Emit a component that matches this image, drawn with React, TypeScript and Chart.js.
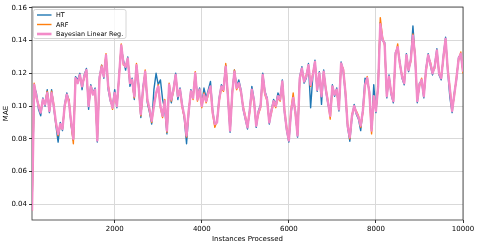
import React, { useEffect, useRef } from 'react';
import { Chart, registerables } from 'chart.js';

Chart.register(...registerables);

// Instances processed: first sample and spacing of the samples below
const START = 100;
const STEP = 50;

const SERIES_NAMES = ['HT', 'ARF', 'Bayesian Linear Reg.'];
const COLORS = ['#1f77b4', '#ff7f0e', '#f38bc8'];

const HT = [
  0.036, 0.112, 0.108, 0.098, 0.094, 0.105, 0.100, 0.110, 0.096, 0.110,
  0.099, 0.088, 0.078, 0.090, 0.085, 0.101, 0.108, 0.103, 0.088, 0.079,
  0.118, 0.116, 0.120, 0.110, 0.119, 0.123, 0.098, 0.113, 0.108, 0.111,
  0.078, 0.118, 0.125, 0.117, 0.131, 0.110, 0.103, 0.100, 0.110, 0.099,
  0.119, 0.136, 0.128, 0.122, 0.130, 0.112, 0.117, 0.104, 0.124, 0.113,
  0.093, 0.112, 0.120, 0.102, 0.096, 0.089, 0.110, 0.120, 0.113, 0.116,
  0.104, 0.098, 0.083, 0.112, 0.102, 0.111, 0.120, 0.104, 0.111, 0.101,
  0.092, 0.077, 0.096, 0.110, 0.106, 0.119, 0.106, 0.111, 0.101, 0.111,
  0.105, 0.110, 0.115, 0.097, 0.088, 0.091, 0.105, 0.113, 0.111, 0.125,
  0.105, 0.084, 0.109, 0.122, 0.112, 0.116, 0.110, 0.098, 0.092, 0.086,
  0.098, 0.112, 0.104, 0.087, 0.097, 0.101, 0.120, 0.109, 0.105, 0.089,
  0.098, 0.104, 0.101, 0.108, 0.105, 0.116, 0.096, 0.085, 0.078, 0.096,
  0.104, 0.097, 0.081, 0.118, 0.124, 0.114, 0.117, 0.126, 0.099, 0.118,
  0.128, 0.109, 0.121, 0.101, 0.122, 0.109, 0.101, 0.095, 0.113, 0.106,
  0.111, 0.097, 0.127, 0.121, 0.107, 0.087, 0.0785, 0.093, 0.101, 0.095,
  0.092, 0.085, 0.098, 0.117, 0.116, 0.109, 0.086, 0.113, 0.096, 0.113,
  0.151, 0.140, 0.139, 0.105, 0.119, 0.107, 0.102, 0.133, 0.135, 0.127,
  0.117, 0.113, 0.132, 0.121, 0.129, 0.149, 0.129, 0.102, 0.114, 0.115,
  0.105, 0.123, 0.132, 0.125, 0.119, 0.125, 0.135, 0.119, 0.116, 0.131,
  0.142, 0.121, 0.105, 0.096, 0.108, 0.116, 0.130, 0.131, 0.122,
];

const ARF = [
  0.036, 0.114, 0.105, 0.101, 0.097, 0.103, 0.102, 0.109, 0.098, 0.109,
  0.101, 0.089, 0.082, 0.088, 0.087, 0.099, 0.106, 0.104, 0.089, 0.077,
  0.116, 0.115, 0.118, 0.113, 0.117, 0.121, 0.101, 0.111, 0.108, 0.109,
  0.080, 0.116, 0.125, 0.119, 0.132, 0.113, 0.105, 0.098, 0.107, 0.101,
  0.117, 0.138, 0.125, 0.125, 0.128, 0.115, 0.115, 0.105, 0.126, 0.111,
  0.094, 0.109, 0.122, 0.103, 0.097, 0.090, 0.101, 0.107, 0.113, 0.099,
  0.093, 0.104, 0.084, 0.114, 0.103, 0.109, 0.118, 0.107, 0.109, 0.099,
  0.093, 0.081, 0.098, 0.108, 0.104, 0.121, 0.103, 0.109, 0.099, 0.108,
  0.102, 0.107, 0.111, 0.095, 0.087, 0.091, 0.103, 0.111, 0.109, 0.126,
  0.107, 0.086, 0.107, 0.122, 0.110, 0.113, 0.108, 0.100, 0.094, 0.088,
  0.096, 0.109, 0.102, 0.089, 0.095, 0.099, 0.118, 0.107, 0.103, 0.091,
  0.096, 0.102, 0.099, 0.105, 0.103, 0.114, 0.098, 0.087, 0.080, 0.098,
  0.108, 0.095, 0.083, 0.116, 0.122, 0.116, 0.119, 0.124, 0.112, 0.120,
  0.126, 0.111, 0.119, 0.107, 0.120, 0.111, 0.103, 0.092, 0.111, 0.108,
  0.109, 0.099, 0.125, 0.123, 0.109, 0.089, 0.080, 0.095, 0.099, 0.097,
  0.094, 0.087, 0.096, 0.112, 0.118, 0.107, 0.083, 0.105, 0.098, 0.111,
  0.154, 0.142, 0.137, 0.107, 0.117, 0.109, 0.104, 0.131, 0.138, 0.125,
  0.119, 0.115, 0.130, 0.123, 0.127, 0.144, 0.131, 0.104, 0.112, 0.117,
  0.107, 0.121, 0.130, 0.127, 0.121, 0.123, 0.133, 0.121, 0.118, 0.129,
  0.140, 0.123, 0.111, 0.098, 0.106, 0.118, 0.128, 0.133, 0.120,
];

const BLR = [
  0.036, 0.113, 0.106, 0.100, 0.096, 0.104, 0.101, 0.108, 0.097, 0.108,
  0.100, 0.090, 0.083, 0.089, 0.086, 0.100, 0.107, 0.102, 0.090, 0.080,
  0.117, 0.114, 0.119, 0.112, 0.118, 0.122, 0.100, 0.112, 0.107, 0.110,
  0.079, 0.117, 0.124, 0.118, 0.131, 0.112, 0.104, 0.099, 0.108, 0.100,
  0.118, 0.137, 0.126, 0.124, 0.129, 0.114, 0.116, 0.106, 0.125, 0.112,
  0.095, 0.110, 0.121, 0.104, 0.098, 0.091, 0.100, 0.108, 0.112, 0.100,
  0.094, 0.103, 0.085, 0.113, 0.104, 0.110, 0.119, 0.106, 0.110, 0.100,
  0.094, 0.082, 0.097, 0.109, 0.105, 0.120, 0.104, 0.110, 0.100, 0.107,
  0.103, 0.108, 0.112, 0.096, 0.089, 0.090, 0.104, 0.112, 0.110, 0.124,
  0.106, 0.085, 0.108, 0.121, 0.111, 0.114, 0.109, 0.099, 0.093, 0.087,
  0.097, 0.110, 0.103, 0.088, 0.096, 0.100, 0.119, 0.108, 0.104, 0.090,
  0.097, 0.103, 0.100, 0.106, 0.104, 0.115, 0.097, 0.086, 0.079, 0.097,
  0.105, 0.096, 0.082, 0.117, 0.123, 0.115, 0.118, 0.125, 0.113, 0.119,
  0.127, 0.110, 0.120, 0.106, 0.121, 0.110, 0.102, 0.094, 0.112, 0.107,
  0.110, 0.098, 0.126, 0.122, 0.108, 0.088, 0.081, 0.094, 0.100, 0.096,
  0.093, 0.088, 0.097, 0.113, 0.117, 0.108, 0.085, 0.106, 0.097, 0.112,
  0.150, 0.141, 0.138, 0.106, 0.118, 0.108, 0.103, 0.132, 0.136, 0.126,
  0.118, 0.114, 0.131, 0.122, 0.128, 0.143, 0.130, 0.103, 0.113, 0.116,
  0.106, 0.122, 0.131, 0.126, 0.120, 0.124, 0.134, 0.120, 0.117, 0.130,
  0.141, 0.122, 0.110, 0.097, 0.107, 0.117, 0.129, 0.132, 0.121,
];

const X_TICKS = [2000, 4000, 6000, 8000, 10000];
const Y_TICKS = [0.04, 0.06, 0.08, 0.10, 0.12, 0.14, 0.16];
const X_MIN = 100;
const X_MAX = 10000;
const Y_MIN = 0.0304;
const Y_MAX = 0.1605;

const FONT = "'DejaVu Sans', sans-serif";

const toPoints = (arr: number[]) => arr.map((v, i) => ({ x: START + i * STEP, y: v }));

const framePlugin = {
  id: 'frame',
  beforeDatasetsDraw(chart: any) {
    const { ctx, chartArea: a } = chart;
    ctx.save();
    ctx.strokeStyle = '#333333';
    ctx.lineWidth = 0.8;
    ctx.strokeRect(a.left, a.top, a.right - a.left, a.bottom - a.top);
    ctx.restore();
  },
};

const legendPlugin = {
  id: 'mplLegend',
  afterDraw(chart: any) {
    const { ctx } = chart;
    const bx = 33.5, by = 9.5, bw = 92.5, bh = 29;
    ctx.save();
    ctx.beginPath();
    const r = 2;
    ctx.moveTo(bx + r, by);
    ctx.lineTo(bx + bw - r, by);
    ctx.quadraticCurveTo(bx + bw, by, bx + bw, by + r);
    ctx.lineTo(bx + bw, by + bh - r);
    ctx.quadraticCurveTo(bx + bw, by + bh, bx + bw - r, by + bh);
    ctx.lineTo(bx + r, by + bh);
    ctx.quadraticCurveTo(bx, by + bh, bx, by + bh - r);
    ctx.lineTo(bx, by + r);
    ctx.quadraticCurveTo(bx, by, bx + r, by);
    ctx.closePath();
    ctx.fillStyle = 'rgba(255,255,255,0.8)';
    ctx.fill();
    ctx.strokeStyle = '#cccccc';
    ctx.lineWidth = 0.8;
    ctx.stroke();
    const rows = [15, 24.5, 34];
    const widths = [1.4, 1.4, 2.6];
    SERIES_NAMES.forEach((name, i) => {
      ctx.beginPath();
      ctx.strokeStyle = COLORS[i];
      ctx.lineWidth = widths[i];
      ctx.moveTo(37, rows[i]);
      ctx.lineTo(51.5, rows[i]);
      ctx.stroke();
      ctx.fillStyle = '#000';
      ctx.font = `6.4px ${FONT}`;
      ctx.textBaseline = 'middle';
      ctx.textAlign = 'left';
      ctx.fillText(name, 56, rows[i] + 0.5);
    });
    ctx.restore();
  },
};

export default function App() {
  const ref = useRef<HTMLCanvasElement | null>(null);

  useEffect(() => {
    if (!ref.current) return;
    const series = [HT, ARF, BLR];
    const widths = [1.4, 1.4, 2.4];
    const order = [3, 2, 1];
    const chart = new Chart(ref.current, {
      type: 'line',
      data: {
        datasets: series.map((s, i) => ({
          label: SERIES_NAMES[i],
          data: toPoints(s),
          borderColor: COLORS[i],
          backgroundColor: COLORS[i],
          borderWidth: widths[i],
          pointRadius: 0,
          tension: 0,
          fill: false,
          borderJoinStyle: 'round' as const,
          order: order[i],
        })),
      },
      options: {
        animation: false,
        responsive: false,
        devicePixelRatio: 1,
        layout: { padding: { top: 7, right: 15, left: 0, bottom: 0 } },
        plugins: {
          legend: { display: false },
          tooltip: { enabled: false },
        },
        scales: {
          x: {
            type: 'linear',
            min: X_MIN,
            max: X_MAX,
            afterBuildTicks: (s: any) => {
              s.ticks = X_TICKS.map((v) => ({ value: v }));
            },
            afterFit: (s: any) => {
              s.height = 25;
            },
            ticks: {
              font: { family: FONT, size: 7 },
              color: '#000',
              padding: 1.5,
              maxRotation: 0,
              autoSkip: false,
              callback: (v: any) => String(v),
            },
            grid: {
              color: '#d9d9d9',
              lineWidth: 1,
              tickColor: '#333333',
              tickLength: 3,
            },
            border: { display: false },
            title: {
              display: true,
              text: 'Instances Processed',
              font: { family: FONT, size: 7 },
              color: '#000',
              padding: { top: 0, bottom: 1.5 },
            },
          },
          y: {
            type: 'linear',
            min: Y_MIN,
            max: Y_MAX,
            afterBuildTicks: (s: any) => {
              s.ticks = Y_TICKS.map((v) => ({ value: v }));
            },
            afterFit: (s: any) => {
              s.width = 32;
            },
            ticks: {
              font: { family: FONT, size: 7 },
              color: '#000',
              padding: 2,
              autoSkip: false,
              callback: (v: any) => Number(v).toFixed(2),
            },
            grid: {
              color: '#d9d9d9',
              lineWidth: 1,
              tickColor: '#333333',
              tickLength: 3,
            },
            border: { display: false },
            title: {
              display: true,
              text: 'MAE',
              font: { family: FONT, size: 7 },
              color: '#000',
              padding: { top: 2, bottom: 0 },
            },
          },
        },
      },
      plugins: [framePlugin, legendPlugin],
    });
    return () => chart.destroy();
  }, []);

  return (
    <div style={{ position: 'fixed', left: 0, top: 0, width: 478, height: 245, background: '#fff' }}>
      <canvas ref={ref} width={478} height={245} style={{ display: 'block' }} />
    </div>
  );
}
